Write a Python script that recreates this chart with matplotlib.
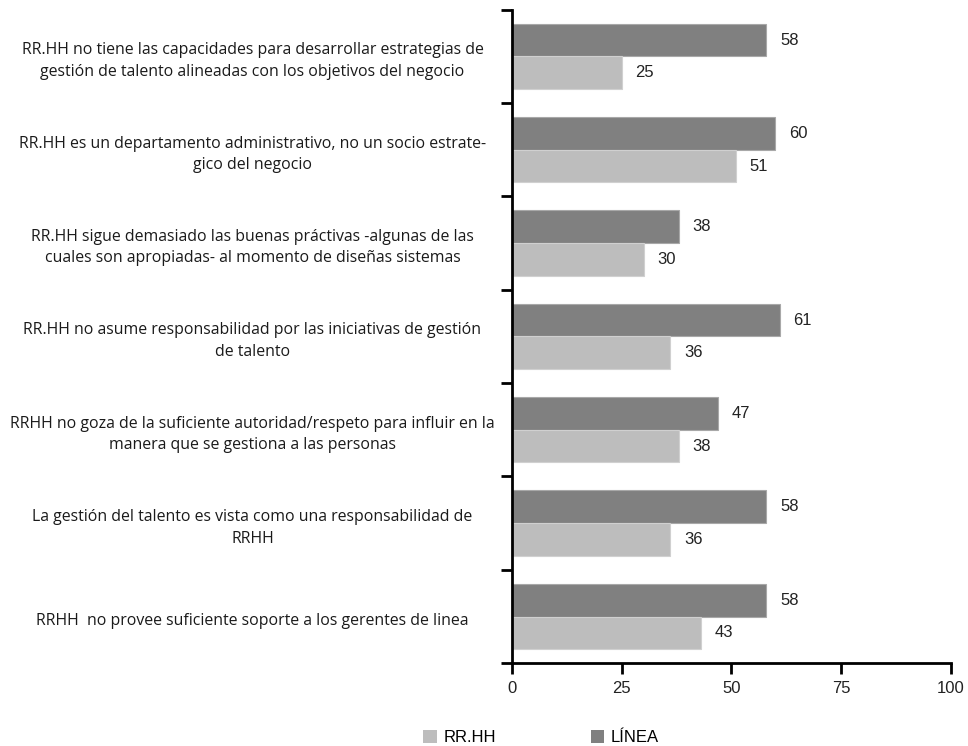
import matplotlib
matplotlib.use('Agg')
from matplotlib import pyplot as plt
from matplotlib.patches import Patch
import numpy as np

# data (top to bottom)
categories = [
    "RR.HH no tiene las capacidades para desarrollar estrategias de\ngestión de talento alineadas con los objetivos del negocio",
    "RR.HH es un departamento administrativo, no un socio estrate-\ngico del negocio",
    "RR.HH sigue demasiado las buenas práctivas -algunas de las\ncuales son apropiadas- al momento de diseñas sistemas",
    "RR.HH no asume responsabilidad por las iniciativas de gestión\nde talento",
    "RRHH no goza de la suficiente autoridad/respeto para influir en la\nmanera que se gestiona a las personas",
    "La gestión del talento es vista como una responsabilidad de\nRRHH",
    "RRHH  no provee suficiente soporte a los gerentes de linea",
]
linea = [58, 60, 38, 61, 47, 58, 58]
rrhh = [25, 51, 30, 36, 38, 36, 43]
xticks = [0, 25, 50, 75, 100]

dark = '#808080'
light = '#bdbdbd'
num_font = 'Liberation Sans'

fig = plt.figure(figsize=(9.68, 7.46), dpi=100)
ax = fig.add_axes([0.529, 0.111, 0.453, 0.876])

y = np.arange(len(categories))
h = 0.35
ax.barh(y - h / 2, linea, height=h, color=dark, edgecolor='#a8a8a8', linewidth=0.8)
ax.barh(y + h / 2, rrhh, height=h, color=light, edgecolor='#d0d0d0', linewidth=0.8)

# value labels
for yi, v in zip(y, linea):
    ax.annotate(str(v), (v, yi - h / 2), xytext=(10, 0), textcoords='offset points',
                ha='left', va='center', fontsize=12, family=num_font, color='#222222')
for yi, v in zip(y, rrhh):
    ax.annotate(str(v), (v, yi + h / 2), xytext=(10, 0), textcoords='offset points',
                ha='left', va='center', fontsize=12, family=num_font, color='#222222')

# category labels, centered in the left area
for yi, lab in zip(y, categories):
    ax.text(-0.592, yi + 0.05, lab, transform=ax.get_yaxis_transform(), ha='center', va='center',
            multialignment='center', fontsize=11.4, family='Open Sans', color='#1a1a1a',
            linespacing=1.45)

ax.set_xlim(0, 100)
ax.set_ylim(len(categories) - 0.5, -0.5)
ax.set_xticks(xticks)
ax.set_xticklabels([str(t) for t in xticks], fontsize=12, family=num_font, color='#222222')
ax.set_yticks(np.arange(len(categories) + 1) - 0.5)
ax.set_yticklabels([])
ax.tick_params(axis='both', direction='out', length=8, width=2, color='black')
ax.tick_params(axis='x', pad=5)

for s in ['top', 'right']:
    ax.spines[s].set_visible(False)
for s in ['left', 'bottom']:
    ax.spines[s].set_linewidth(2)

handles = [Patch(facecolor=light, edgecolor='none', label='RR.HH'),
           Patch(facecolor=dark, edgecolor='none', label='LÍNEA')]
fig.legend(handles=handles, loc='center', bbox_to_anchor=(0.559, 0.011), ncol=2, frameon=False,
           handlelength=0.8, handleheight=0.8, handletextpad=0.4, columnspacing=5.7,
           borderpad=0, prop={'family': num_font, 'size': 12})

fig.savefig('out.png', dpi=100)
